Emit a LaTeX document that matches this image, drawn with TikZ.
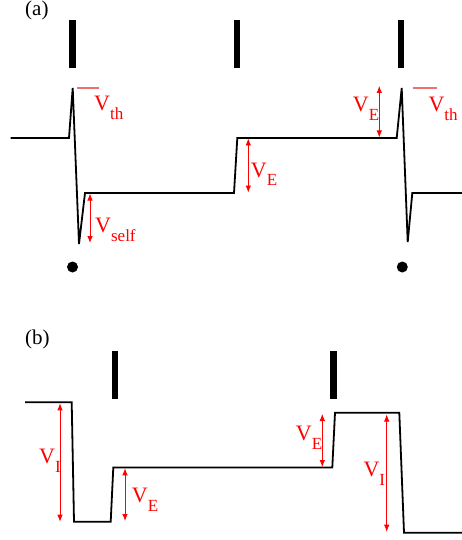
\documentclass[tikz,border=0pt]{standalone}
\usepackage{fontspec}
\setmainfont{Liberation Serif}
\usetikzlibrary{arrows.meta}
\definecolor{thline}{RGB}{240,110,110}
\newcommand{\vlab}[2]{V\raisebox{-9pt}{\fontsize{17}{17}\selectfont #2}}
\tikzset{
  wave/.style={line width=1.8pt, line join=miter},
  gate/.style={rectangle, fill=black, inner sep=0pt, minimum width=6.5pt, minimum height=48pt},
  spot/.style={circle, fill=black, inner sep=0pt, minimum size=11pt},
  span/.style={red, line width=0.8pt, {Latex[length=7pt,width=5.5pt]}-{Latex[length=7pt,width=5.5pt]}},
  thresh/.style={thline, line width=1.2pt},
  lab/.style={red, anchor=base west, inner sep=0pt, font=\fontsize{22}{22}\selectfont},
  panel/.style={anchor=base west, inner sep=0pt, font=\fontsize{21}{21}\selectfont}
}
\begin{document}
\begin{tikzpicture}[x=1pt, y=-1pt]
\useasboundingbox (0,0) rectangle (462,540);

% ---------- panel (a) ----------
\node[panel] (pa) at (25,15.5) {(a)};
\node[gate] (g1) at (72.5,44) {};
\node[gate] (g2) at (237,44) {};
\node[gate] (g3) at (401,44) {};
\node[spot] (d1) at (72.5,267) {};
\node[spot] (d2) at (402.3,267) {};

\coordinate (a0) at (10.7,138);
\coordinate (a1) at (69,138);
\coordinate (a2) at (72.7,88);
\coordinate (a3) at (79,244);
\coordinate (a4) at (85,193);
\coordinate (a5) at (234,193);
\coordinate (a6) at (237.3,138);
\coordinate (a7) at (396.7,138);
\coordinate (a8) at (401.7,88);
\coordinate (a9) at (407.7,242);
\coordinate (a10) at (412.3,193);
\coordinate (a11) at (462,193);
\draw[wave] (a0) -- (a1) -- (a2) -- (a3) -- (a4) -- (a5) -- (a6) -- (a7) -- (a8) -- (a9) -- (a10) -- (a11);

% threshold marks
\coordinate (t1a) at (77,88);   \coordinate (t1b) at (99,88);
\coordinate (t2a) at (412.7,88); \coordinate (t2b) at (436.7,88);
\draw[thresh] (t1a) -- (t1b);
\draw[thresh] (t2a) -- (t2b);

% voltage spans
\coordinate (s1a) at (90,193.5);  \coordinate (s1b) at (90,243);
\coordinate (s2a) at (248.3,138.5); \coordinate (s2b) at (248.3,192.5);
\coordinate (s3a) at (379.3,86);  \coordinate (s3b) at (379.3,137.5);
\draw[span] (s1a) -- (s1b);
\draw[span] (s2a) -- (s2b);
\draw[span] (s3a) -- (s3b);

\node[lab] (l1) at (94,111) {\vlab{V}{th}};
\node[lab] (l2) at (95,232) {\vlab{V}{self}};
\node[lab] (l3) at (250.7,177) {\vlab{V}{E}};
\node[lab] (l4) at (352.7,112) {\vlab{V}{E}};
\node[lab] (l5) at (428.3,112) {\vlab{V}{th}};

% ---------- panel (b) ----------
\node[panel] (pb) at (25,344) {(b)};
\node[gate] (g4) at (115,375) {};
\node[gate] (g5) at (333.7,375) {};

\coordinate (b0) at (25,402.3);
\coordinate (b1) at (71.7,402.3);
\coordinate (b2) at (74,521.7);
\coordinate (b3) at (110.7,521.7);
\coordinate (b4) at (113.3,467.5);
\coordinate (b5) at (332.3,467.5);
\coordinate (b6) at (335,412.7);
\coordinate (b7) at (399.3,412.7);
\coordinate (b8) at (404,532.7);
\coordinate (b9) at (462,532.7);
\draw[wave] (b0) -- (b1) -- (b2) -- (b3) -- (b4) -- (b5) -- (b6) -- (b7) -- (b8) -- (b9);

\coordinate (u1a) at (60,403.3);   \coordinate (u1b) at (60,521.7);
\coordinate (u2a) at (125,468.3);  \coordinate (u2b) at (125,521);
\coordinate (u3a) at (322.3,414);  \coordinate (u3b) at (322.3,467);
\coordinate (u4a) at (386.7,414.5); \coordinate (u4b) at (386.7,531.7);
\draw[span] (u1a) -- (u1b);
\draw[span] (u2a) -- (u2b);
\draw[span] (u3a) -- (u3b);
\draw[span] (u4a) -- (u4b);

\node[lab] (l6) at (39,463) {\vlab{V}{I}};
\node[lab] (l7) at (131.7,502.7) {\vlab{V}{E}};
\node[lab] (l8) at (295.7,440) {\vlab{V}{E}};
\node[lab] (l9) at (363.3,476.7) {\vlab{V}{I}};
\end{tikzpicture}
\end{document}
